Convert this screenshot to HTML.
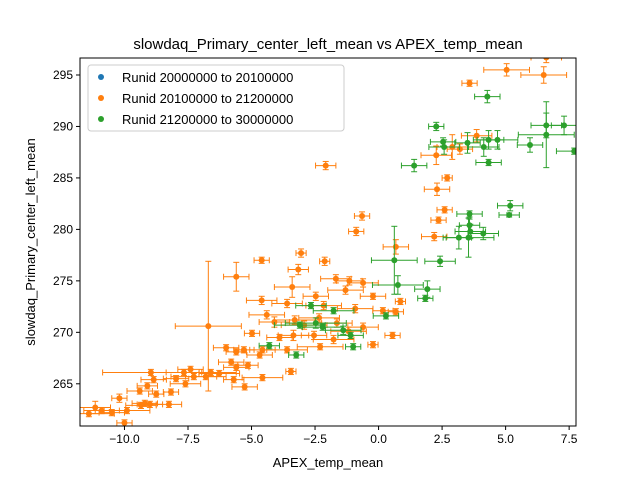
<!DOCTYPE html>
<html><head><meta charset="utf-8"><style>
body{margin:0;background:#fff}
svg text{font-family:"Liberation Sans","DejaVu Sans",sans-serif;fill:#000}
</style></head><body>
<svg id="chart" width="640" height="480" viewBox="0 0 640 480" xmlns="http://www.w3.org/2000/svg">
<rect width="640" height="480" fill="#fff"/>
<text x="328" y="49" font-size="15" text-anchor="middle">slowdaq_Primary_center_left_mean vs APEX_temp_mean</text>
<g id="marks"></g>
<rect x="80" y="58" width="496" height="368" fill="none" stroke="#000" stroke-width="1"/>
<g id="axes"></g>
<text x="328" y="467" font-size="13" text-anchor="middle">APEX_temp_mean</text>
<text transform="translate(35,242) rotate(-90)" font-size="13" text-anchor="middle">slowdaq_Primary_center_left_mean</text>
<g>
<rect x="88" y="65" width="256" height="66" rx="3" fill="#fff" fill-opacity="0.8" stroke="#ccc"/>
<circle cx="101" cy="77" r="3" fill="#1f77b4"/><text x="122" y="82" font-size="13">Runid 20000000 to 20100000</text>
<circle cx="101" cy="98" r="3" fill="#ff7f0e"/><text x="122" y="103" font-size="13">Runid 20100000 to 21200000</text>
<circle cx="101" cy="119" r="3" fill="#2ca02c"/><text x="122" y="124" font-size="13">Runid 21200000 to 30000000</text>
</g>
</svg>
<script>
const xTicks=[-10,-7.5,-5,-2.5,0,2.5,5,7.5];
const xTickLabels=["−10.0","−7.5","−5.0","−2.5","0.0","2.5","5.0","7.5"];
const yTicks=[265,270,275,280,285,290,295];
const yTickLabels=["265","270","275","280","285","290","295"];
const orangeX=[5.04,6.5,6.6,3.58,-2.08,3.86,2.27,2.7,2.3,2.6,2.36,-0.65,-0.88,2.19,0.68,-3.05,-2.12,-4.6,-5.6,-3.16,-1.68,-1.15,-3.4,-0.61,-1.3,-0.22,0.86,-2.47,-4.6,-3.6,-2.16,-0.92,0.68,-6.7,-4.4,-4.98,-4.1,-3.3,-2.93,-2.34,-1.64,-1.18,-0.61,-3.9,-3.35,-2.54,-1.77,-4.57,-3.6,-2.3,-0.22,-5.6,-3.45,-6.6,-7.66,-7.27,-6.8,-5.7,-4.57,-5.27,-6.27,-7.97,-7.6,-8.96,-8.85,-9.1,-8.75,-9.4,-10.2,-9.0,-9.35,-9.2,-9.9,-10.5,-10.9,-11.4,-11.15,-10.0,-8.25,-8.17,-7.4,-5.3,-6.0,-5.8,-5.6,-5.14,-4.68,0.17,0.55,2.9,3.2];
const orangeY=[295.5,295.0,296.7,294.2,286.2,289.1,287.2,285.0,283.9,281.9,280.9,281.3,279.8,279.3,278.3,277.7,276.9,277.0,275.4,276.1,275.2,275.0,274.4,274.8,274.1,273.5,273.0,273.5,273.1,272.8,272.6,272.3,272.0,270.6,271.7,269.9,271.0,271.2,270.7,271.4,270.9,270.1,270.5,269.5,269.7,269.7,269.3,268.3,268.3,268.6,268.8,268.1,266.2,266.1,266.1,265.7,265.7,265.4,265.6,264.7,266.0,265.5,265.0,266.1,265.4,264.8,264.0,264.3,263.6,263.0,262.9,263.1,262.4,262.2,262.4,262.1,262.7,261.2,263.0,264.2,266.4,268.3,268.5,267.1,266.6,266.8,267.8,272.1,269.7,288.0,287.8];
const orangeXErr=[0.9,0.9,0.6,0.3,0.4,0.6,0.6,0.2,0.5,0.3,0.3,0.3,0.3,0.5,0.5,0.2,0.2,0.3,0.5,0.4,0.6,0.5,0.7,0.6,0.7,0.5,0.2,0.5,0.6,0.6,0.7,0.7,0.3,1.3,0.7,0.3,0.6,0.8,0.9,0.8,0.6,0.7,0.6,0.5,0.6,0.5,0.8,0.5,0.8,0.9,0.2,0.4,0.2,1.0,0.7,0.9,0.8,0.4,0.8,0.5,0.8,0.5,0.6,1.9,0.5,0.4,0.3,0.5,0.3,0.5,0.6,0.5,0.9,0.5,0.7,1.0,0.6,0.3,0.5,0.3,0.5,0.4,0.5,0.5,0.5,0.4,0.5,0.4,0.3,0.6,0.5];
const orangeYErr=[0.6,0.8,0.5,0.3,0.4,0.6,0.9,0.3,0.6,0.3,0.3,0.4,0.4,0.4,0.7,0.4,0.4,0.3,1.4,0.5,0.4,0.4,1.0,0.4,0.4,0.3,0.3,0.4,0.4,0.4,0.4,0.4,0.3,6.3,0.4,0.3,0.5,0.4,0.4,0.4,0.4,0.4,0.4,0.3,0.5,0.4,0.4,0.3,0.3,0.3,0.3,0.3,0.3,0.3,0.3,0.3,0.3,0.3,0.3,0.3,0.3,0.3,0.3,0.3,0.3,0.3,0.3,0.3,0.4,0.3,0.3,0.3,0.3,0.3,0.3,0.3,0.6,0.3,0.3,0.3,0.3,0.3,0.3,0.3,0.3,0.3,0.3,0.3,0.3,1.2,0.5];
const greenX=[4.28,2.27,2.54,2.58,3.5,4.14,4.33,4.68,1.4,4.33,6.6,7.3,6.6,5.96,7.7,5.18,5.14,3.58,3.58,3.61,4.12,3.16,3.54,2.42,0.62,0.76,1.92,1.84,0.29,-2.66,-1.77,-2.47,-2.2,-1.39,-1.1,-1.0,-3.24,-3.1,-4.3];
const greenY=[292.9,290.0,288.5,288.0,288.4,288.0,288.7,288.7,286.2,286.5,290.1,290.1,289.2,288.2,287.6,282.3,281.4,281.5,280.4,279.8,279.6,279.2,279.2,276.9,277.0,274.6,274.2,273.3,271.6,272.6,272.1,270.9,270.5,270.2,269.7,268.6,267.8,270.7,268.7];
const greenXErr=[0.5,0.3,0.5,0.6,0.5,0.6,0.6,0.8,0.5,0.5,0.6,0.5,1.1,0.5,0.7,0.5,0.4,0.5,0.4,0.6,0.6,0.5,1.0,0.6,0.9,1.0,0.5,0.3,0.5,0.6,0.8,1.2,0.8,0.7,0.5,0.3,0.3,1.0,0.4];
const greenYErr=[0.6,0.4,0.4,0.7,1.0,0.9,0.9,0.9,0.6,0.3,1.2,0.9,3.2,0.7,0.3,0.5,0.2,0.3,0.6,0.7,0.6,1.1,1.9,0.5,3.3,0.9,0.8,0.3,0.3,0.3,0.3,0.5,0.3,0.4,0.3,0.3,0.3,0.3,0.3];
const X0=80,X1=576,Y0=58,Y1=426,XMIN=-11.75,XMAX=7.77,YMIN=260.9,YMAX=296.65;
function sx(v){return X0+(v-XMIN)/(XMAX-XMIN)*(X1-X0);}
function sy(v){return Y1-(v-YMIN)/(YMAX-YMIN)*(Y1-Y0);}
const NS="http://www.w3.org/2000/svg";
const marks=document.getElementById('marks');
const axes=document.getElementById('axes');
const clip=document.createElementNS(NS,'clipPath');clip.setAttribute('id','pc');
const cr=document.createElementNS(NS,'rect');cr.setAttribute('x',X0);cr.setAttribute('y',Y0);cr.setAttribute('width',X1-X0);cr.setAttribute('height',Y1-Y0);
clip.appendChild(cr);marks.appendChild(clip);marks.setAttribute('clip-path','url(#pc)');
function ln(g,x1,y1,x2,y2,c){const l=document.createElementNS(NS,'line');l.setAttribute('x1',x1);l.setAttribute('y1',y1);l.setAttribute('x2',x2);l.setAttribute('y2',y2);l.setAttribute('stroke',c);l.setAttribute('stroke-width','1');g.appendChild(l);}
function series(xs,ys,xe,ye,color,name){
  for(let i=0;i<xs.length;i++){
    const g=document.createElementNS(NS,'g');
    
    
    const cx=sx(xs[i]),cy=sy(ys[i]),xa=sx(xs[i]-xe[i]),xb=sx(xs[i]+xe[i]),ya=sy(ys[i]-ye[i]),yb=sy(ys[i]+ye[i]);
    ln(g,xa,cy,xb,cy,color);ln(g,cx,ya,cx,yb,color);
    ln(g,xa,cy-3,xa,cy+3,color);ln(g,xb,cy-3,xb,cy+3,color);
    ln(g,cx-3,ya,cx+3,ya,color);ln(g,cx-3,yb,cx+3,yb,color);
    const c=document.createElementNS(NS,'circle');c.setAttribute('cx',cx);c.setAttribute('cy',cy);c.setAttribute('r','3');c.setAttribute('fill',color);
    g.appendChild(c);marks.appendChild(g);
  }
}
series(orangeX,orangeY,orangeXErr,orangeYErr,'#ff7f0e','orange-series');
series(greenX,greenY,greenXErr,greenYErr,'#2ca02c','green-series');
xTicks.forEach((t,i)=>{
  const x=sx(t);ln(axes,x,Y1,x,Y1+4,'#000');
  const tx=document.createElementNS(NS,'text');
  
  
  tx.setAttribute('x',x);tx.setAttribute('y',Y1+17);tx.setAttribute('font-size','12');tx.setAttribute('text-anchor','middle');tx.textContent=xTickLabels[i];axes.appendChild(tx);
});
yTicks.forEach((t,i)=>{
  const y=sy(t);ln(axes,X0-4,y,X0,y,'#000');
  const tx=document.createElementNS(NS,'text');
  
  
  tx.setAttribute('x',X0-7);tx.setAttribute('y',y+4);tx.setAttribute('font-size','12');tx.setAttribute('text-anchor','end');tx.textContent=yTickLabels[i];axes.appendChild(tx);
});
</script>
</body></html>
